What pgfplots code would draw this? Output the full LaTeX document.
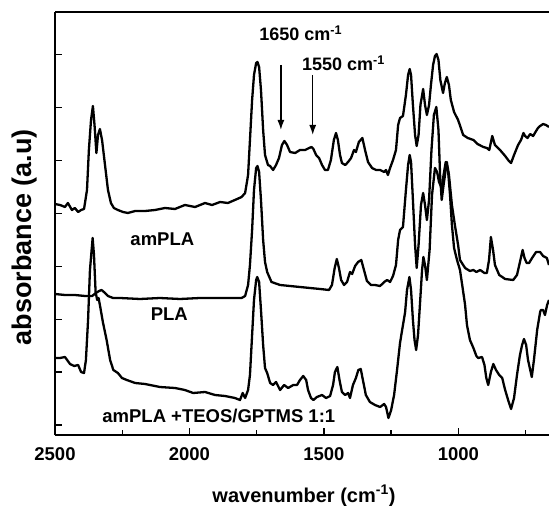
\documentclass[border=0pt]{standalone}
\usepackage{pgfplots}
\pgfplotsset{compat=1.18}
\usepackage{fontspec}
\setmainfont{Liberation Sans}
\usetikzlibrary{arrows.meta}

\begin{document}
\begin{tikzpicture}
\begin{axis}[
    scale only axis,
    width=494pt, height=422.7pt,
    x dir=reverse,
    xmin=663, xmax=2500,
    ymin=0, ymax=422.7,
    axis x line*=box,
    axis y line*=left,
    axis line style={line width=1.6pt},
    tick align=inside,
    xtick pos=bottom, ytick pos=left,
    xtick={1000,1500,2000,2500},
    minor xtick={750,1250,1750,2250},
    ytick={10,62.9,115.8,168.7,221.6,274.5,327.4,380.3},
    yticklabels={},
    major tick length=7pt, minor tick length=5pt,
    every tick/.style={line width=1.3pt, black},
    /pgf/number format/1000 sep={},
    /pgf/number format/assume math mode=true,
    tick label style={font=\fontsize{18.5}{20}\selectfont\bfseries},
    xticklabel style={yshift=-9pt},
    xlabel={wavenumber (cm\textsuperscript{-1})},
    xlabel style={font=\fontsize{20}{22}\selectfont\bfseries, at={(axis description cs:0.504,-0.144)}, anchor=center},
    ylabel={absorbance (a.u)},
    ylabel style={font=\fontsize{27}{30}\selectfont\bfseries, at={(axis description cs:-0.062,0.468)}, anchor=center},
    spectrum/.style={black, no markers, line width=2.3pt, line join=round},
    clip=true,
]

% amPLA
\addplot[spectrum] coordinates {
(2500,231) (2481,230) (2463,228) (2452,232) (2437,225) (2426,227) (2414,223) (2403,225)
(2392,226) (2381,245) (2374,285) (2366,315) (2359,329) (2353,310) (2346,282) (2340,300)
(2333,306) (2325,295) (2314,270) (2303,245) (2292,232) (2281,227) (2266,225) (2247,223)
(2229,222) (2202,224) (2165,224) (2128,225) (2091,227) (2054,226) (2017,230) (1979,228)
(1942,232) (1916,230) (1886,233) (1857,232) (1831,235) (1806,238) (1793,242) (1782,260)
(1775,295) (1767,335) (1760,360) (1752,372) (1747,373) (1741,368) (1734,345) (1726,305)
(1719,280) (1708,270) (1700,269) (1689,265) (1678,270) (1667,277) (1656,290) (1647,294)
(1637,290) (1626,283) (1607,282) (1589,285) (1570,285) (1555,287) (1546,288) (1539,286)
(1529,280) (1518,277) (1507,270) (1496,265) (1485,265) (1474,275) (1463,295) (1455,302)
(1448,295) (1440,280) (1433,272) (1421,270) (1410,273) (1399,277) (1388,285) (1381,283)
(1370,293) (1357,297) (1347,285) (1336,273) (1321,267) (1306,265) (1291,265) (1276,263)
(1269,265) (1262,260) (1254,267) (1243,275) (1232,285) (1224,310) (1217,317) (1206,319)
(1195,340) (1187,360) (1181,366) (1176,360) (1169,330) (1161,300) (1155,289) (1148,300)
(1141,330) (1131,346) (1124,330) (1117,320) (1109,330) (1102,350) (1094,370) (1087,379)
(1081,381) (1074,375) (1067,355) (1057,342) (1050,352) (1043,358) (1035,350) (1028,335)
(1016,323) (1001,315) (982,300) (965,297) (944,295) (929,291) (907,288) (894,287)
(885,285) (874,299) (864,290) (845,285) (826,279) (815,275) (804,272) (793,280)
(778,290) (767,295) (758,302) (752,299) (743,297) (733,301) (722,299) (711,304)
(704,307) (696,309) (685,311) (674,310) (663,308)
};

% PLA
\addplot[spectrum] coordinates {
(2500,141) (2463,140) (2426,140) (2388,139) (2362,139) (2348,142) (2336,144) (2327,145)
(2318,143) (2303,139) (2284,137) (2258,137) (2184,136) (2110,137) (2035,136) (1961,137)
(1886,137) (1831,137) (1806,137) (1793,139) (1782,150) (1775,170) (1767,205) (1760,245)
(1752,267) (1747,269) (1741,263) (1734,235) (1726,195) (1719,173) (1711,163) (1695,153)
(1663,150) (1626,149) (1589,148) (1552,147) (1514,146) (1481,145) (1470,150) (1460,167)
(1452,176) (1444,167) (1436,155) (1425,150) (1414,153) (1403,163) (1395,161) (1384,169)
(1373,173) (1361,175) (1351,165) (1340,154) (1325,150) (1310,150) (1291,149) (1276,153)
(1265,155) (1254,153) (1243,159) (1232,170) (1224,195) (1217,205) (1206,208) (1195,245)
(1187,270) (1181,280) (1176,273) (1169,235) (1161,190) (1155,167) (1148,190) (1139,230)
(1131,242) (1124,230) (1117,215) (1109,235) (1100,285) (1091,320) (1082,328) (1074,305)
(1068,260) (1062,235) (1055,250) (1043,273) (1035,260) (1024,230) (1013,210) (1001,190)
(994,175) (975,167) (957,164) (944,165) (933,163) (919,165) (903,162) (894,162)
(886,175) (879,198) (871,185) (864,170) (848,160) (826,156) (796,155) (782,160)
(771,173) (761,185) (754,177) (746,172) (737,172) (726,177) (711,183) (696,183)
(685,179) (671,177) (663,170)
};

% amPLA + TEOS/GPTMS 1:1
\addplot[spectrum] coordinates {
(2500,77) (2481,77) (2463,78) (2444,71) (2429,69) (2414,70) (2403,63) (2392,62)
(2385,75) (2377,115) (2370,165) (2360,197) (2355,180) (2349,143) (2343,135) (2338,137)
(2333,130) (2322,113) (2308,95) (2295,75) (2283,65) (2266,62) (2251,57) (2233,55)
(2202,52) (2165,51) (2110,48) (2054,47) (2017,45) (1986,42) (1942,43) (1905,40)
(1868,39) (1831,37) (1812,35) (1802,42) (1793,37) (1782,45) (1775,60) (1767,100)
(1760,135) (1752,155) (1748,158) (1741,153) (1734,125) (1726,90) (1719,67) (1711,62)
(1700,52) (1689,50) (1678,53) (1663,45) (1648,50) (1633,47) (1614,50) (1600,50)
(1589,55) (1577,59) (1566,55) (1559,45) (1548,37) (1539,35) (1526,38) (1507,40)
(1492,37) (1477,39) (1466,50) (1459,63) (1450,68) (1442,55) (1433,43) (1421,40)
(1410,42) (1403,37) (1392,50) (1381,57) (1372,65) (1363,66) (1355,55) (1344,40)
(1329,33) (1310,30) (1291,28) (1276,31) (1269,28) (1260,17) (1250,25) (1239,40)
(1228,65) (1217,92) (1206,110) (1198,123) (1191,145) (1182,158) (1176,145) (1169,115)
(1163,95) (1157,85) (1150,100) (1143,130) (1135,165) (1130,178) (1124,170) (1117,155)
(1107,185) (1098,240) (1087,267) (1079,263) (1072,253) (1062,247) (1055,260) (1047,273)
(1038,263) (1031,240) (1024,210) (1016,187) (1005,175) (994,165) (983,145) (975,130)
(968,110) (957,95) (944,87) (933,79) (926,77) (912,78) (903,70) (896,57)
(889,50) (879,63) (870,71) (860,65) (848,60) (837,57) (826,45) (815,35)
(804,26) (793,37) (782,60) (771,80) (763,90) (756,96) (748,90) (741,75)
(727,58) (719,75) (707,105) (696,123) (693,125) (685,125) (678,120) (670,130)
(663,135)
};

\node[anchor=base west, inner sep=0pt, font=\fontsize{18.5}{20}\selectfont\bfseries] at (axis cs:2220,189) {amPLA};
\node[anchor=base west, inner sep=0pt, font=\fontsize{18.5}{20}\selectfont\bfseries] at (axis cs:2144.5,114) {PLA};
\node[anchor=base west, inner sep=0pt, font=\fontsize{18.5}{20}\selectfont\bfseries] at (axis cs:2324.5,12.3) {amPLA +TEOS/GPTMS 1:1};
\node[anchor=base west, inner sep=0pt, font=\fontsize{18}{20}\selectfont\bfseries] at (axis cs:1741,394.3) {1650 cm\textsuperscript{-1}};
\node[anchor=base west, inner sep=0pt, font=\fontsize{18}{20}\selectfont\bfseries] at (axis cs:1582,364.3) {1550 cm\textsuperscript{-1}};
\draw[line width=1.4pt, -{Latex[length=10pt,width=7pt]}] (axis cs:1660,370) -- (axis cs:1660,305);
\draw[line width=1.4pt, -{Latex[length=10pt,width=7pt]}] (axis cs:1541.6,360) -- (axis cs:1541.6,300);

\coordinate (sw) at (rel axis cs:0,0);
\coordinate (ne) at (rel axis cs:1,1);
\end{axis}
\pgfresetboundingbox
\path (sw) ++(-55pt,-71pt) coordinate (bbsw);
\path (ne) ++(0pt,12.3pt) coordinate (bbne);
\path[use as bounding box] (bbsw) rectangle (bbne);
\end{tikzpicture}
\end{document}
